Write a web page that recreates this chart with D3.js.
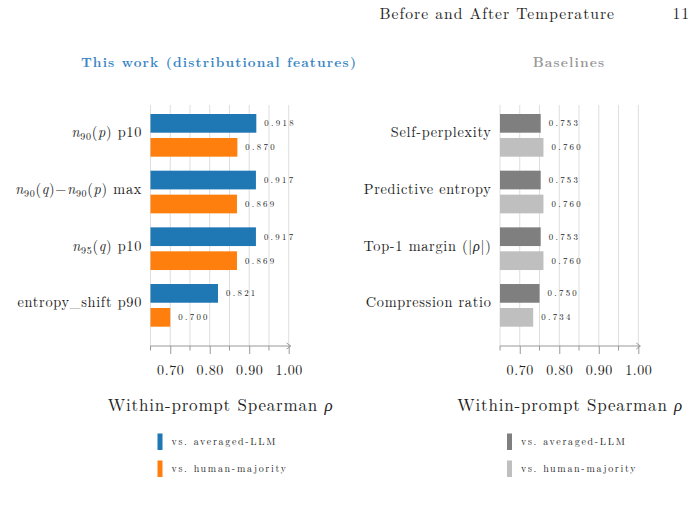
<!DOCTYPE html>
<html>
<head>
<meta charset="utf-8">
<script src="https://cdn.jsdelivr.net/npm/d3@7"></script>
<style>
  body { margin: 0; background: #fff; }
  svg { display: block; }
  svg text { font-family: "Latin Modern Roman", "Liberation Serif", serif; fill: #222; }
</style>
</head>
<body>
<div id="chart"></div>
<script>
// chart data

var featureLabels = ["$n_{90}(p)$ p10", "$n_{90}(q)\u2212n_{90}(p)$ max", "$n_{95}(q)$ p10", "entropy_shift p90"];
var featureLLM = [0.918, 0.917, 0.917, 0.821];
var featureHuman = [0.870, 0.869, 0.869, 0.700];

var baselineLabels = ["Self-perplexity", "Predictive entropy", "Top-1 margin ($|\u03c1|$)", "Compression ratio"];
var baselineLLM = [0.753, 0.753, 0.753, 0.750];
var baselineHuman = [0.760, 0.760, 0.760, 0.734];

var seriesNames = ["vs. averaged-LLM", "vs. human-majority"];
var xTicks = [0.70, 0.80, 0.90, 1.00];
var xMinorTicks = [0.65, 0.75, 0.85, 0.95];
var xDomain = [0.65, 1.00];

// svg parameters
var svgWidth = 696;
var svgHeight = 509;
var plotTop = 105;
var axisY = 346;
var fontLM = "'Latin Modern Roman', 'Liberation Serif', serif";

var svg = d3.select("#chart").append("svg")
	.attr("width", svgWidth)
	.attr("height", svgHeight);

// running header
svg.append("text")
	.attr("x", 379.5).attr("y", 18.7)
	.attr("font-size", 15.6)
	.attr("letter-spacing", 1.0)
	.text("Before and After Temperature");
svg.append("text")
	.attr("x", 690).attr("y", 18.7)
	.attr("text-anchor", "end")
	.attr("font-size", 15.6)
	.attr("letter-spacing", 1)
	.text("11");

// writes "$...$" parts as math: letters italic, _{..} as subscript
function writeLabel(textSel, str) {
	var parts = str.split("$");
	var shift = 0;
	parts.forEach(function(part, i) {
		if (part === "") return;
		if (i % 2 === 0) {
			var t = textSel.append("tspan").text(part);
			if (shift) { t.attr("dy", -shift); shift = 0; }
			return;
		}
		var re = /_\{([^}]*)\}|([A-Za-z\u03c1]+)|([^_A-Za-z\u03c1]+)/g;
		var m;
		while ((m = re.exec(part)) !== null) {
			var t;
			if (m[1] !== undefined) {
				t = textSel.append("tspan").attr("font-size", "0.7em").text(m[1]);
				t.attr("dy", 3 - shift);
				shift = 3;
				continue;
			}
			if (m[2] !== undefined) {
				t = textSel.append("tspan").attr("font-style", "italic").text(m[2]);
			} else {
				t = textSel.append("tspan").text(m[3]);
			}
			if (shift) { t.attr("dy", -shift); shift = 0; }
		}
	});
}

var panels = [
	{labels: featureLabels, llm: featureLLM, human: featureHuman,
	 colors: ["#1f77b4", "#ff7f0e"], range: [150.5, 288.7],
	 title: "This work (distributional features)", titleColor: "#3b87c4", titleX: 219},
	{labels: baselineLabels, llm: baselineLLM, human: baselineHuman,
	 colors: ["#7f7f7f", "#bfbfbf"], range: [500, 638.3],
	 title: "Baselines", titleColor: "#9a9a9a", titleX: 569}
];

panels.forEach(function(p) {
	var g = svg.append("g");
	var xScale = d3.scaleLinear().domain(xDomain).range(p.range);
	var yScale = d3.scaleBand().domain(d3.range(p.labels.length))
		.range([107, 333.7]).paddingInner(0.247).paddingOuter(0.1235);
	var ySub = d3.scaleBand().domain([0, 1])
		.range([0, yScale.bandwidth()]).paddingInner(0.22).paddingOuter(0);
	var mid = (p.range[0] + p.range[1]) / 2 + 1;

	// title
	g.append("text")
		.attr("x", p.titleX).attr("y", 67)
		.attr("text-anchor", "middle")
		.attr("font-size", 13.5)
		.attr("font-weight", "bold")
		.attr("letter-spacing", 1.15)
		.style("fill", p.titleColor)
		.text(p.title);

	// grid
	g.selectAll(".grid")
		.data(xMinorTicks.concat(xTicks))
		.enter().append("line")
		.attr("x1", function(d) { return xScale(d); })
		.attr("x2", function(d) { return xScale(d); })
		.attr("y1", plotTop).attr("y2", axisY)
		.attr("stroke", "#dedede")
		.attr("stroke-width", 1);

	// bars
	var rows = p.labels.map(function(l, i) { return {i: i, vals: [p.llm[i], p.human[i]]}; });
	var grp = g.selectAll(".row").data(rows).enter().append("g")
		.attr("transform", function(d) { return "translate(0," + yScale(d.i) + ")"; });
	grp.selectAll("rect")
		.data(function(d) { return d.vals; })
		.enter().append("rect")
		.attr("x", xScale(xDomain[0]))
		.attr("y", function(d, j) { return ySub(j); })
		.attr("width", function(d) { return xScale(d) - xScale(xDomain[0]); })
		.attr("height", ySub.bandwidth())
		.attr("fill", function(d, j) { return p.colors[j]; });
	grp.selectAll(".val")
		.data(function(d) { return d.vals; })
		.enter().append("text")
		.attr("x", function(d) { return xScale(d) + 8; })
		.attr("y", function(d, j) { return ySub(j) + ySub.bandwidth() / 2 + 3; })
		.attr("font-size", 8.8)
		.attr("letter-spacing", 2.3)
		.text(function(d) { return d3.format(".3f")(d); });

	// category labels
	grp.append("text")
		.attr("x", p.range[0] - 8.5)
		.attr("y", yScale.bandwidth() / 2 + 2)
		.attr("text-anchor", "end")
		.attr("font-size", 14.3)
		.attr("letter-spacing", 0.7)
		.style("fill", "#222")
		.each(function(d) { writeLabel(d3.select(this), p.labels[d.i]); });

	// axis
	var xAxis = d3.axisBottom(xScale).tickValues(xTicks)
		.tickFormat(d3.format(".2f")).tickSize(8).tickPadding(11);
	var ax = g.append("g")
		.attr("transform", "translate(0," + axisY + ")")
		.call(xAxis);
	ax.select(".domain").remove();
	ax.selectAll(".tick line").attr("stroke", "#999");
	ax.selectAll(".tick text")
		.attr("font-size", 14)
		.attr("letter-spacing", 0.6)
		.style("font-family", fontLM)
		.style("fill", "#222");
	ax.selectAll(".minor").data(xMinorTicks).enter().append("line")
		.attr("x1", function(d) { return xScale(d); })
		.attr("x2", function(d) { return xScale(d); })
		.attr("y1", 0).attr("y2", 4.5)
		.attr("stroke", "#999");
	ax.append("line")
		.attr("x1", p.range[0]).attr("x2", p.range[1] + 2)
		.attr("y1", 0).attr("y2", 0)
		.attr("stroke", "#999");
	ax.append("path")
		.attr("d", "M" + (p.range[1] - 2) + ",-3 L" + (p.range[1] + 2) + ",0 L" + (p.range[1] - 2) + ",3")
		.attr("fill", "none")
		.attr("stroke", "#999");

	// axis title
	var at = g.append("text")
		.attr("x", mid).attr("y", 411)
		.attr("text-anchor", "middle")
		.attr("font-size", 17)
		.attr("letter-spacing", 0.8);
	writeLabel(at, "Within-prompt Spearman $\u03c1$");

	// legend
	var lg = g.selectAll(".leg").data(seriesNames).enter().append("g")
		.attr("transform", function(d, j) { return "translate(" + (p.range[0] + 7) + "," + (433.5 + j * 27) + ")"; });
	lg.append("rect")
		.attr("width", 5).attr("height", 16.5)
		.attr("fill", function(d, j) { return p.colors[j]; });
	lg.append("text")
		.attr("x", 14).attr("y", 11.5)
		.attr("font-size", 10)
		.attr("letter-spacing", 1.7)
		.text(function(d) { return d; });
});
</script>
</body>
</html>
